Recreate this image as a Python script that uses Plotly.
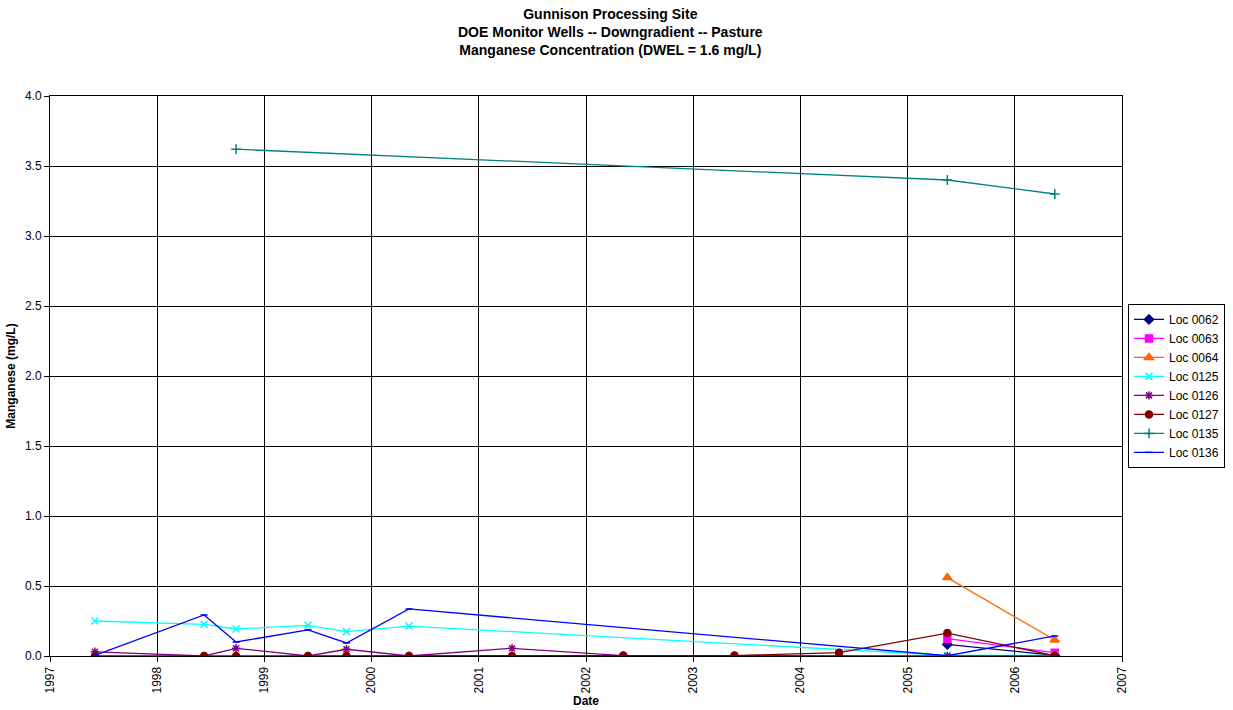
import plotly.graph_objects as go

# Sampling dates (one column per sampling event)
dates = ["1997-06-03", "1998-06-10", "1998-09-27", "1999-05-30", "1999-10-08",
         "2000-05-08", "2001-04-24", "2002-05-08", "2003-05-22", "2004-05-12",
         "2005-05-16", "2006-05-17"]

# Manganese concentration (mg/L) per location; None = not sampled
loc_0062 = [None, None, None, None, None, None, None, None, None, None, 0.083, 0.004]
loc_0063 = [None, None, None, None, None, None, None, None, None, None, 0.124, 0.024]
loc_0064 = [None, None, None, None, None, None, None, None, None, None, 0.56, 0.114]
loc_0125 = [0.25, 0.226, 0.193, 0.219, 0.174, 0.214, None, None, None, None, 0.005, 0.005]
loc_0126 = [0.03, 0.0, 0.055, 0.0, 0.048, 0.0, 0.055, 0.003, 0.003, 0.0, 0.0, 0.0]
loc_0127 = [0.0, 0.0, 0.0, 0.0, 0.0, 0.0, 0.0, 0.003, 0.003, 0.024, 0.164, 0.002]
loc_0135 = [None, None, 3.62, None, None, None, None, None, None, None, 3.40, 3.30]
loc_0136 = [0.005, 0.293, 0.10, 0.186, 0.093, 0.336, None, None, None, None, 0.002, 0.143]

series = [
    ("Loc 0062", loc_0062, "#000080", "diamond", 7),
    ("Loc 0063", loc_0063, "#FF00FF", "square", 7),
    ("Loc 0064", loc_0064, "#FF6600", "triangle-up", 8),
    ("Loc 0125", loc_0125, "#00FFFF", "x-thin-open", 7),
    ("Loc 0126", loc_0126, "#800080", "asterisk-open", 7),
    ("Loc 0127", loc_0127, "#800000", "circle", 7),
    ("Loc 0135", loc_0135, "#008080", "cross-thin-open", 7),
    ("Loc 0136", loc_0136, "#0000FF", "line-ew-open", 5),
]

FONT = "Arial, Liberation Sans, sans-serif"
TITLE = ("<b>Gunnison Processing Site<br>DOE Monitor Wells -- Downgradient -- Pasture"
         "<br>Manganese Concentration (DWEL = 1.6 mg/L)</b>")

fig = go.Figure()
for name, vals, color, symbol, size in series:
    fig.add_trace(go.Scatter(
        x=dates, y=vals, name=name, mode="lines+markers",
        connectgaps=True,
        line=dict(color=color, width=1.3),
        marker=dict(symbol=symbol, size=size, color=color,
                    line=dict(color=color, width=1.5)),
    ))

fig.update_layout(
    width=1233, height=710,
    margin=dict(l=50, r=111, t=96, b=54),
    paper_bgcolor="white", plot_bgcolor="white",
    font=dict(family=FONT, size=12, color="black"),
    showlegend=True,
    legend=dict(
        xref="container", yref="container",
        x=0.9935, xanchor="right", y=0.572, yanchor="top",
        bordercolor="black", borderwidth=1, bgcolor="white",
        font=dict(family=FONT, size=12), tracegroupgap=0,
        itemwidth=30,
    ),
    annotations=[dict(
        text=TITLE, xref="paper", yref="paper", x=0.523, y=1.114,
        xanchor="center", yanchor="middle", showarrow=False,
        font=dict(family=FONT, size=14, color="black"), align="center",
    )],
)

fig.update_xaxes(
    type="date", range=["1997-01-01", "2007-01-01"],
    tick0="1997-01-01", dtick="M12", tickformat="%Y", tickangle=-90,
    showgrid=True, gridcolor="black", gridwidth=1,
    showline=True, linecolor="black", linewidth=1, mirror=True,
    ticks="outside", ticklen=5, tickcolor="black",
    tickfont=dict(family=FONT, size=12),
    title=dict(text="<b>Date</b>", font=dict(family=FONT, size=12), standoff=4),
    zeroline=False, automargin=False,
)
fig.update_yaxes(
    range=[0, 4.0], dtick=0.5, tickformat=".1f",
    showgrid=True, gridcolor="black", gridwidth=1,
    showline=True, linecolor="black", linewidth=1, mirror=True,
    ticks="outside", ticklen=5, tickcolor="black",
    tickfont=dict(family=FONT, size=12),
    title=dict(text="<b>Manganese (mg/L)</b>", font=dict(family=FONT, size=12), standoff=6),
    zeroline=False, automargin=False,
)

fig.write_html("out.html")
